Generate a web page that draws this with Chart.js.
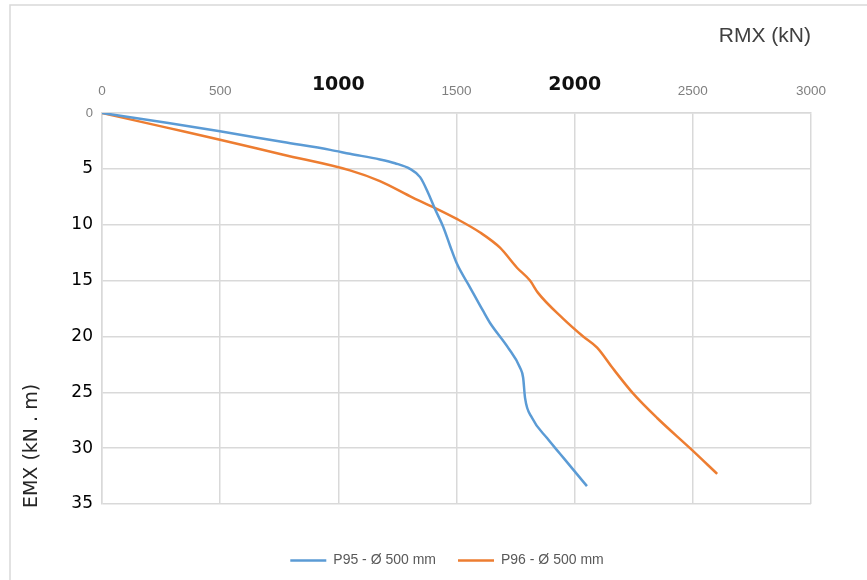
<!DOCTYPE html>
<html>
<head>
<meta charset="utf-8">
<title>RMX / EMX</title>
<script src="https://cdn.jsdelivr.net/npm/chart.js@4.4.1/dist/chart.umd.min.js"></script>
<style>
    body { margin: 0; background: #fff; }
    canvas { display: block; }
</style>
</head>
<body>
<canvas id="chart" width="867" height="580"></canvas>
<script>
const seriesLabels = ['P95 - Ø 500 mm', 'P96 - Ø 500 mm'];

const rmxP95 = [0, 274, 499, 767, 966, 1049, 1176, 1240, 1303, 1346, 1381, 1409, 1444, 1473, 1502, 1557, 1612, 1642, 1718, 1769, 1782, 1790, 1820, 1883, 1938, 1993, 2052];
const emxP95 = [0, 0.87, 1.64, 2.6, 3.3, 3.65, 4.16, 4.5, 5.0, 5.74, 7.2, 8.6, 10.2, 11.9, 13.5, 15.6, 17.7, 18.8, 21.0, 22.8, 23.7, 25.5, 27.3, 29.1, 30.5, 31.9, 33.4];

const rmxP96 = [0, 274, 499, 767, 1049, 1176, 1317, 1402, 1501, 1600, 1684, 1756, 1811, 1845, 1951, 2036, 2095, 2163, 2247, 2349, 2488, 2603];
const emxP96 = [0, 1.31, 2.39, 3.74, 5.14, 6.1, 7.6, 8.43, 9.48, 10.7, 12.06, 13.85, 15.0, 16.1, 18.4, 20.0, 21.0, 22.9, 25.1, 27.3, 30.0, 32.3];

const rmxTicks = [0, 500, 1000, 1500, 2000, 2500, 3000];
const emxTicks = [0, 5, 10, 15, 20, 25, 30, 35];
const boldRmxTicks = [1000, 2000];

const xAxisTitle = 'RMX (kN)';
const yAxisTitle = 'EMX (kN . m)';

function toPoints(xs, ys) {
    return xs.map((x, i) => ({ x: x, y: ys[i] }));
}

function tickValue(ctx) {
    return ctx && ctx.tick ? ctx.tick.value : null;
}

// white page, the thin frame on top/left, and the rotated y title
const framePlugin = {
    id: 'frame',
    beforeDraw(chart) {
        const ctx = chart.ctx;
        ctx.save();
        ctx.fillStyle = '#ffffff';
        ctx.fillRect(0, 0, chart.width, chart.height);
        ctx.strokeStyle = '#d9d9d9';
        ctx.lineWidth = 1.5;
        ctx.beginPath();
        ctx.moveTo(10, chart.height);
        ctx.lineTo(10, 5);
        ctx.lineTo(chart.width, 5);
        ctx.stroke();
        ctx.restore();
    },
    afterDraw(chart) {
        const ctx = chart.ctx;
        ctx.save();
        ctx.translate(32, 446);
        ctx.rotate(-Math.PI / 2);
        ctx.font = '19px "DejaVu Sans"';
        ctx.fillStyle = '#262626';
        ctx.textAlign = 'center';
        ctx.textBaseline = 'middle';
        ctx.fillText(yAxisTitle, 0, 0);
        ctx.restore();
    }
};

let config = {
    type: 'scatter',
    data: {
        datasets: [
        {
            label: seriesLabels[0],
            data: toPoints(rmxP95, emxP95),
            borderColor: '#5b9bd5',
            backgroundColor: '#5b9bd5',
            borderWidth: 2.5,
            showLine: true,
            pointRadius: 0,
            cubicInterpolationMode: 'monotone'
        },
        {
            label: seriesLabels[1],
            data: toPoints(rmxP96, emxP96),
            borderColor: '#ed7d31',
            backgroundColor: '#ed7d31',
            borderWidth: 2.5,
            showLine: true,
            pointRadius: 0,
            cubicInterpolationMode: 'monotone'
        }]
    },
    options: {
        responsive: false,
        animation: false,
        devicePixelRatio: 1,
        layout: {
            padding: { left: 27, right: 0, top: 0, bottom: 2.5 }
        },
        scales: {
            x: {
                type: 'linear',
                position: 'top',
                min: rmxTicks[0],
                max: rmxTicks[rmxTicks.length - 1],
                afterBuildTicks: (scale) => {
                    scale.ticks = rmxTicks.map(v => ({ value: v }));
                },
                afterFit: (scale) => {
                    scale.height = 113;
                },
                grid: {
                    color: '#d9d9d9',
                    lineWidth: 1.5,
                    drawTicks: false
                },
                border: { display: true, color: '#d9d9d9', width: 1.5 },
                ticks: {
                    autoSkip: false,
                    maxRotation: 0,
                    padding: 14,
                    callback: (v) => String(v),
                    color: (ctx) => boldRmxTicks.includes(tickValue(ctx)) ? '#111111' : '#7f7f7f',
                    font: (ctx) => boldRmxTicks.includes(tickValue(ctx))
                        ? { family: '"DejaVu Sans"', size: 19, weight: 'bold', lineHeight: 1.43 }
                        : { family: '"Liberation Sans"', size: 13.5, weight: 'normal', lineHeight: 1.2 }
                },
                title: {
                    display: true,
                    text: xAxisTitle,
                    align: 'end',
                    color: '#404040',
                    font: { family: '"Liberation Sans"', size: 21, lineHeight: 1.2 },
                    padding: { top: 24, bottom: 0 }
                }
            },
            y: {
                type: 'linear',
                reverse: true,
                min: emxTicks[0],
                max: emxTicks[emxTicks.length - 1],
                afterBuildTicks: (scale) => {
                    scale.ticks = emxTicks.map(v => ({ value: v }));
                },
                afterFit: (scale) => {
                    scale.width = 75;
                },
                grid: {
                    color: '#d9d9d9',
                    lineWidth: 1.5,
                    drawTicks: false
                },
                border: { display: true, color: '#d9d9d9', width: 1.5 },
                ticks: {
                    autoSkip: false,
                    padding: 9,
                    callback: (v) => String(v),
                    color: (ctx) => tickValue(ctx) === 0 ? '#7f7f7f' : '#000000',
                    font: (ctx) => tickValue(ctx) === 0
                        ? { family: '"Liberation Sans"', size: 13, weight: 'normal' }
                        : { family: '"DejaVu Sans"', size: 17, weight: 'normal' }
                }
            },
            // empty spacer on the right, keeps the plot narrower than the page
            spacer: {
                type: 'linear',
                position: 'right',
                grid: { display: false },
                border: { display: false },
                ticks: { display: false },
                afterFit: (scale) => {
                    scale.width = 56;
                }
            }
        },
        plugins: {
            legend: {
                position: 'bottom',
                title: {
                    display: true,
                    text: '',
                    font: { size: 10, lineHeight: 1.2 },
                    padding: { top: 15.5, bottom: 0 }
                },
                labels: {
                    usePointStyle: true,
                    pointStyle: 'line',
                    pointStyleWidth: 36,
                    padding: 22,
                    color: '#595959',
                    font: { family: '"Liberation Sans"', size: 14 }
                }
            },
            tooltip: { enabled: false }
        }
    },
    plugins: [framePlugin]
};

const ctx = document.getElementById('chart').getContext('2d');
new Chart(ctx, config);
</script>
</body>
</html>
